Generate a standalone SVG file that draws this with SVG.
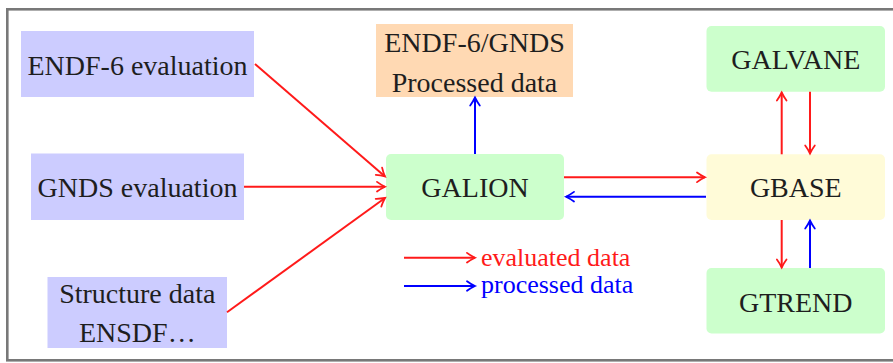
<svg xmlns="http://www.w3.org/2000/svg" width="893" height="363" viewBox="0 0 893 363">
  <style>
    .lbl { font-family: "Liberation Serif", "DejaVu Serif", serif; font-size: 28px; fill: #1e1e1e; text-anchor: middle; }
    .leg { font-family: "Liberation Serif", "DejaVu Serif", serif; font-size: 26px; }
    .src { fill: #ccccff; }
    .out { fill: #ffd9b3; }
    .mod { fill: #ccffcc; }
    .base { fill: #fffbd8; }
    .red { stroke: #ff1a1a; stroke-width: 2; fill: none; }
    .blue { stroke: #0000ff; stroke-width: 2; fill: none; }
  </style>
  <defs>
    <marker id="headRed" markerUnits="userSpaceOnUse" viewBox="-10 -6 12 12" markerWidth="12" markerHeight="12" refX="0" refY="0" orient="auto" overflow="visible">
      <path d="M-8,-4.8 C-5.2,-2.7 -1.9,-0.9 0,0 C-1.9,0.9 -5.2,2.7 -8,4.8" fill="none" stroke="#ff1a1a" stroke-width="1.8" stroke-linecap="round"/>
    </marker>
    <marker id="headBlue" markerUnits="userSpaceOnUse" viewBox="-10 -6 12 12" markerWidth="12" markerHeight="12" refX="0" refY="0" orient="auto" overflow="visible">
      <path d="M-8,-4.8 C-5.2,-2.7 -1.9,-0.9 0,0 C-1.9,0.9 -5.2,2.7 -8,4.8" fill="none" stroke="#0000ff" stroke-width="1.8" stroke-linecap="round"/>
    </marker>
  </defs>

  <rect x="0" y="0" width="893" height="363" fill="#ffffff"/>
  <!-- outer frame -->
  <rect x="7.3" y="9.3" width="900" height="351" fill="#ffffff" stroke="#787878" stroke-width="2.6"/>

  <g id="endf6-evaluation">
    <rect class="src" x="21" y="31" width="233" height="66"/>
    <text class="lbl" x="137.5" y="75">ENDF-6 evaluation</text>
  </g>
  <g id="gnds-evaluation">
    <rect class="src" x="31" y="153.5" width="213" height="66.5"/>
    <text class="lbl" x="137.5" y="197.3">GNDS evaluation</text>
  </g>
  <g id="structure-data">
    <rect class="src" x="47.5" y="277" width="179.5" height="71"/>
    <text class="lbl" x="137.3" y="303">Structure data</text>
    <text class="lbl" x="137.3" y="342">ENSDF…</text>
  </g>
  <g id="processed-data">
    <rect class="out" x="376" y="24" width="197" height="73"/>
    <text class="lbl" x="474.5" y="51.7">ENDF-6/GNDS</text>
    <text class="lbl" x="474.5" y="91.5">Processed data</text>
  </g>
  <g id="galion">
    <rect class="mod" x="386" y="154" width="178" height="66" rx="5"/>
    <text class="lbl" x="475" y="197">GALION</text>
  </g>
  <g id="galvane">
    <rect class="mod" x="706.5" y="26" width="178.5" height="65.7" rx="5"/>
    <text class="lbl" x="795.8" y="69.3">GALVANE</text>
  </g>
  <g id="gbase">
    <rect class="base" x="706.5" y="154.3" width="178.5" height="65.7" rx="5"/>
    <text class="lbl" x="795.8" y="196.7">GBASE</text>
  </g>
  <g id="gtrend">
    <rect class="mod" x="706.5" y="268" width="178.5" height="65.5" rx="5"/>
    <text class="lbl" x="795.8" y="311.7">GTREND</text>
  </g>

  <g id="connectors">
    <line class="red" x1="255" y1="64" x2="385" y2="176.5" marker-end="url(#headRed)"/>
    <line class="red" x1="244" y1="186.7" x2="385" y2="186.7" marker-end="url(#headRed)"/>
    <line class="red" x1="227" y1="312.3" x2="385" y2="198" marker-end="url(#headRed)"/>
    <line class="blue" x1="475" y1="154" x2="475" y2="97.5" marker-end="url(#headBlue)"/>
    <line class="red" x1="564" y1="177.3" x2="705" y2="177.3" marker-end="url(#headRed)"/>
    <line class="blue" x1="706" y1="196.7" x2="566" y2="196.7" marker-end="url(#headBlue)"/>
    <line class="red" x1="781.7" y1="154.3" x2="781.7" y2="92.5" marker-end="url(#headRed)"/>
    <line class="red" x1="810" y1="91.7" x2="810" y2="153.5" marker-end="url(#headRed)"/>
    <line class="red" x1="781.7" y1="220" x2="781.7" y2="267.5" marker-end="url(#headRed)"/>
    <line class="blue" x1="810" y1="268" x2="810" y2="220.5" marker-end="url(#headBlue)"/>
  </g>

  <g id="legend">
    <line class="red" x1="404" y1="257.7" x2="475" y2="257.7" marker-end="url(#headRed)"/>
    <text class="leg" x="481" y="266" fill="#ff1a1a">evaluated data</text>
    <line class="blue" x1="404" y1="286" x2="475" y2="286" marker-end="url(#headBlue)"/>
    <text class="leg" x="481" y="293" fill="#0000ff">processed data</text>
  </g>
</svg>
